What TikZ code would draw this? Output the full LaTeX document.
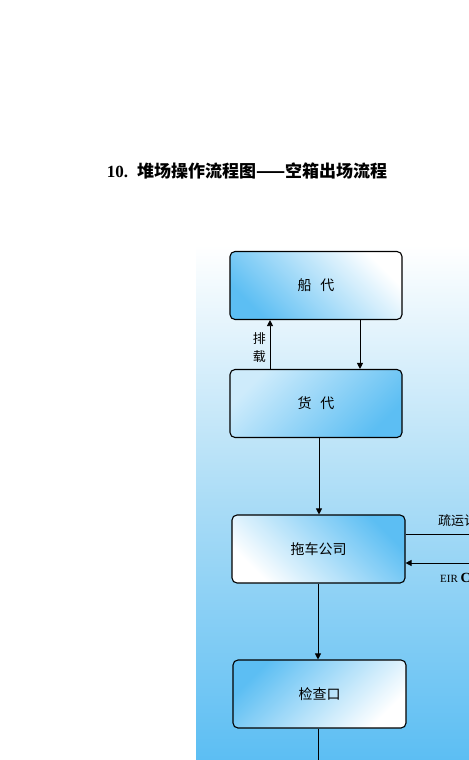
\documentclass[tikz,border=0pt]{standalone}
\usepackage{fontspec}
\newfontfamily\cjk{Noto Sans CJK SC}
\setmainfont{Liberation Serif}
\usetikzlibrary{arrows.meta}
\definecolor{sky}{RGB}{92,190,243}
\definecolor{skymid}{RGB}{170,220,246}
\begin{document}
\begin{tikzpicture}[x=1bp,y=-1bp,
  box/.style={draw=black, line width=1.1bp, rounded corners=5bp, minimum width=172bp, minimum height=68bp, inner sep=0pt, font=\cjk\fontsize{14bp}{16bp}\selectfont},
  arr/.style={-{Triangle[length=6bp,width=6bp]}, line width=0.8bp},
  ln/.style={line width=0.8bp},
  lab/.style={inner sep=0pt, font=\cjk\fontsize{13bp}{15bp}\selectfont},
  title/.style={inner sep=0pt, font=\fontsize{17bp}{20bp}\selectfont\bfseries}]
\clip (0,0) rectangle (469,760);
\fill[white] (0,0) rectangle (469,760);
\shade[top color=white, bottom color=sky, middle color=skymid] (196,245) rectangle (470,760);
\node[title] (t) at (247,171) {10.\hspace{9bp}{\cjk\bfseries 堆场操作流程图——空箱出场流程}};
\node[box, top color=white, bottom color=sky, shading angle=-45] (cd) at (316,285.5) {船\hspace{9bp}代};
\node[box, top color=white!70!sky, bottom color=sky, shading angle=45] (hd) at (316,403.5) {货\hspace{9bp}代};
\node[box, minimum width=173bp, top color=sky, bottom color=white, shading angle=-45] (tc) at (318.5,549) {拖车公司};
\node[box, minimum width=173bp, top color=sky, bottom color=white, shading angle=45] (jc) at (319.5,694) {检查口};
\coordinate (x1) at (270,0);
\coordinate (x2) at (360,0);
\coordinate (x3) at (319,0);
\coordinate (x4) at (318,0);
\coordinate (bot) at (318,762);
\coordinate (r1) at (472,534);
\coordinate (r2) at (472,563);
\draw[arr] (hd.north -| x1) -- (cd.south -| x1);
\draw[arr] (cd.south -| x2) -- (hd.north -| x2);
\draw[arr] (hd.south -| x3) -- (tc.north -| x3);
\draw[arr] (tc.south -| x4) -- (jc.north -| x4);
\draw[ln] (jc.south -| x4) -- (bot);
\draw[ln] (tc.east |- r1) -- (r1);
\draw[arr] (r2) -- (tc.east |- r2);
\node[lab, anchor=east] (pz1) at (266,339) {排};
\node[lab, anchor=east] (pz2) at (266,357) {载};
\node[lab, anchor=west] (sy) at (438,521) {疏运计};
\node[inner sep=0pt, anchor=west, font=\fontsize{11bp}{13bp}\selectfont] (eir) at (440,578) {EIR \textbf{\fontsize{14bp}{14bp}\selectfont C}};
\end{tikzpicture}
\end{document}
